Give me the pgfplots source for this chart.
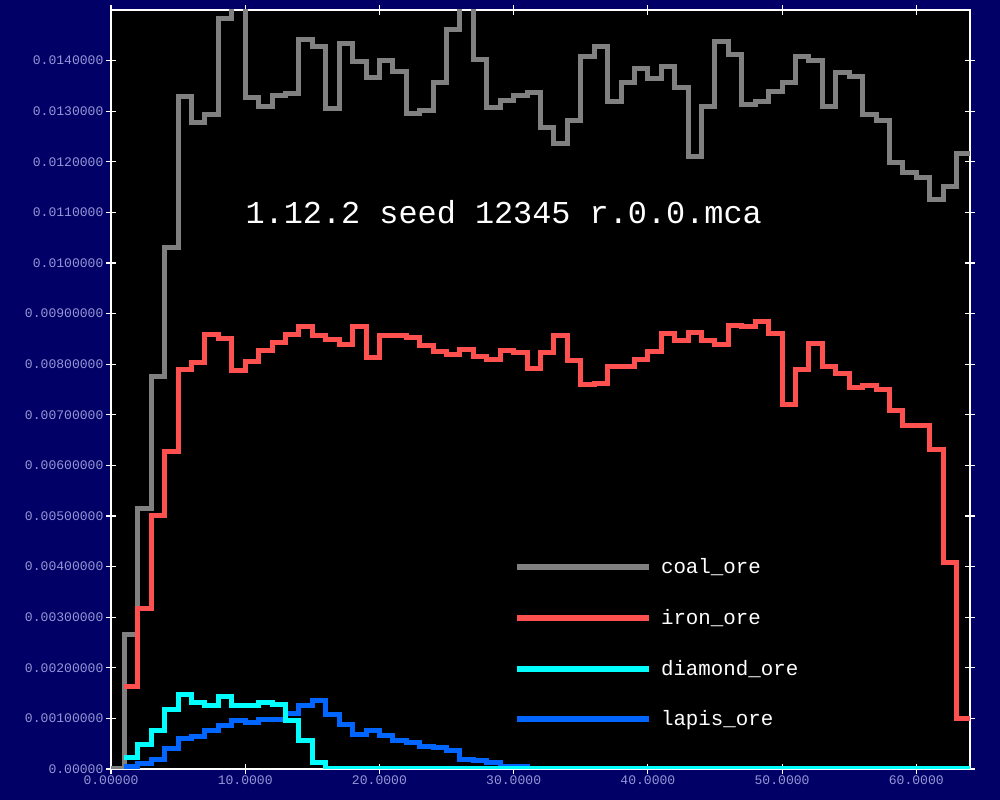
\documentclass[border=0pt]{standalone}
\usepackage{pgfplots}
\usepackage{pgfplotstable}
\pgfplotsset{compat=1.18}
\usepackage{fontspec}
\setmainfont{Liberation Mono}
\definecolor{bgnavy}{RGB}{0,0,102}
\definecolor{ticklab}{RGB}{150,150,215}
\definecolor{coalc}{RGB}{128,128,128}
\definecolor{ironc}{RGB}{255,80,80}
\definecolor{diac}{RGB}{0,255,255}
\definecolor{lapc}{RGB}{0,102,255}

% values in thousandths (0.001)
\pgfplotstableread{
x coal iron diamond lapis
0 0 nan nan nan
1 2.65 1.63 0.23 0.04
2 5.15 3.17 0.49 0.10
3 7.75 5.00 0.77 0.18
4 10.30 6.27 1.17 0.41
5 13.30 7.89 1.48 0.61
6 12.77 8.03 1.32 0.64
7 12.94 8.59 1.25 0.77
8 14.84 8.50 1.43 0.85
9 15.50 7.87 1.25 0.96
10 13.28 8.05 1.26 0.92
11 13.10 8.27 1.32 0.98
12 13.32 8.43 1.28 0.98
13 13.34 8.58 0.96 1.10
14 14.41 8.75 0.56 1.25
15 14.27 8.56 0.13 1.36
16 13.05 8.48 0 1.08
17 14.34 8.38 0 0.88
18 13.98 8.74 0 0.69
19 13.67 8.13 0 0.76
20 14.01 8.56 0 0.66
21 13.78 8.57 0 0.56
22 12.96 8.53 0 0.53
23 13.02 8.36 0 0.44
24 13.56 8.26 0 0.42
25 14.61 8.20 0 0.36
26 15.50 8.29 0 0.19
27 14.02 8.16 0 0.16
28 13.07 8.10 0 0.13
29 13.21 8.28 0 0.05
30 13.32 8.23 0 0.04
31 13.37 7.92 0 0.01
32 12.67 8.23 0 0
33 12.37 8.56 0 0
34 12.81 8.08 0 0
35 14.09 7.60 0 0
36 14.27 7.62 0 0
37 13.19 7.95 0 0
38 13.56 7.95 0 0
39 13.85 8.10 0 0
40 13.65 8.26 0 0
41 13.89 8.61 0 0
42 13.47 8.46 0 0
43 12.11 8.62 0 0
44 13.09 8.47 0 0
45 14.38 8.39 0 0
46 14.12 8.77 0 0
47 13.14 8.75 0 0
48 13.19 8.85 0 0
49 13.39 8.60 0 0
50 13.56 7.21 0 0
51 14.08 7.89 0 0
52 14.01 8.40 0 0
53 13.09 7.95 0 0
54 13.76 7.81 0 0
55 13.68 7.54 0 0
56 12.94 7.57 0 0
57 12.81 7.50 0 0
58 11.99 7.09 0 0
59 11.78 6.79 0 0
60 11.69 6.79 0 0
61 11.26 6.32 0 0
62 11.52 4.09 0 0
63 12.17 1.00 0 0
64 12.17 1.00 0 0
}\oredata

\begin{document}
\begin{tikzpicture}
\fill[bgnavy] (-83.25bp,-23.25bp) rectangle (666.75bp,576.75bp);
\begin{axis}[
  at={(0,0)}, anchor=south west,
  scale only axis, width=644.25bp, height=569.25bp,
  xmin=0, xmax=64, ymin=0, ymax=15,
  axis background/.style={fill=black},
  axis line style={white, line width=1.1bp},
  xtick={0,10,20,30,40,50,60},
  xticklabels={0.00000,10.0000,20.0000,30.0000,40.0000,50.0000,60.0000},
  ytick={0,1,2,3,4,5,6,7,8,9,10,11,12,13,14},
  yticklabels={0.00000,0.00100000,0.00200000,0.00300000,0.00400000,0.00500000,0.00600000,0.00700000,0.00800000,0.00900000,0.0100000,0.0110000,0.0120000,0.0130000,0.0140000},
  tick style={white, line width=0.8bp},
  tick align=center, major tick length=7bp,
  tick label style={font=\fontsize{9.8bp}{10bp}\selectfont, text=ticklab},
  xticklabel style={inner sep=1bp},
  yticklabel style={inner sep=2bp},
  legend style={draw=none, fill=none, at={(axis description cs:0.4685,0.2995)}, anchor=north west,
    inner sep=0pt, row sep=0pt, font=\fontsize{15.6bp}{16bp}\selectfont, text=white,
    /tikz/every odd column/.append style={column sep=5bp}},
  legend cell align=left,
  legend image code/.code={\draw[#1, line width=4.5bp] (0bp,0bp) -- (99bp,0bp); \path[draw=none, fill=none] (0bp,-19bp) -- (0bp,19bp);},
]
\addplot[const plot, coalc, line width=3.75bp, forget plot] table[x=x, y=coal] {\oredata};
\addplot[const plot, ironc, line width=3.75bp, forget plot] table[x=x, y=iron] {\oredata};
\addplot[const plot, lapc, line width=3.75bp, forget plot] table[x=x, y=lapis] {\oredata};
\addplot[const plot, diac, line width=3.75bp, forget plot] table[x=x, y=diamond] {\oredata};
\addlegendimage{coalc}\addlegendentry{coal\_ore}
\addlegendimage{ironc}\addlegendentry{iron\_ore}
\addlegendimage{diac}\addlegendentry{diamond\_ore}
\addlegendimage{lapc}\addlegendentry{lapis\_ore}
\node[white, font=\fontsize{23.9bp}{24bp}\selectfont] at (axis cs:29.26,11.01) {1.12.2 seed 12345 r.0.0.mca};
\end{axis}
\pgfresetboundingbox
\path[use as bounding box] (-83.25bp,-23.25bp) rectangle (666.75bp,576.75bp);
\end{tikzpicture}
\end{document}
